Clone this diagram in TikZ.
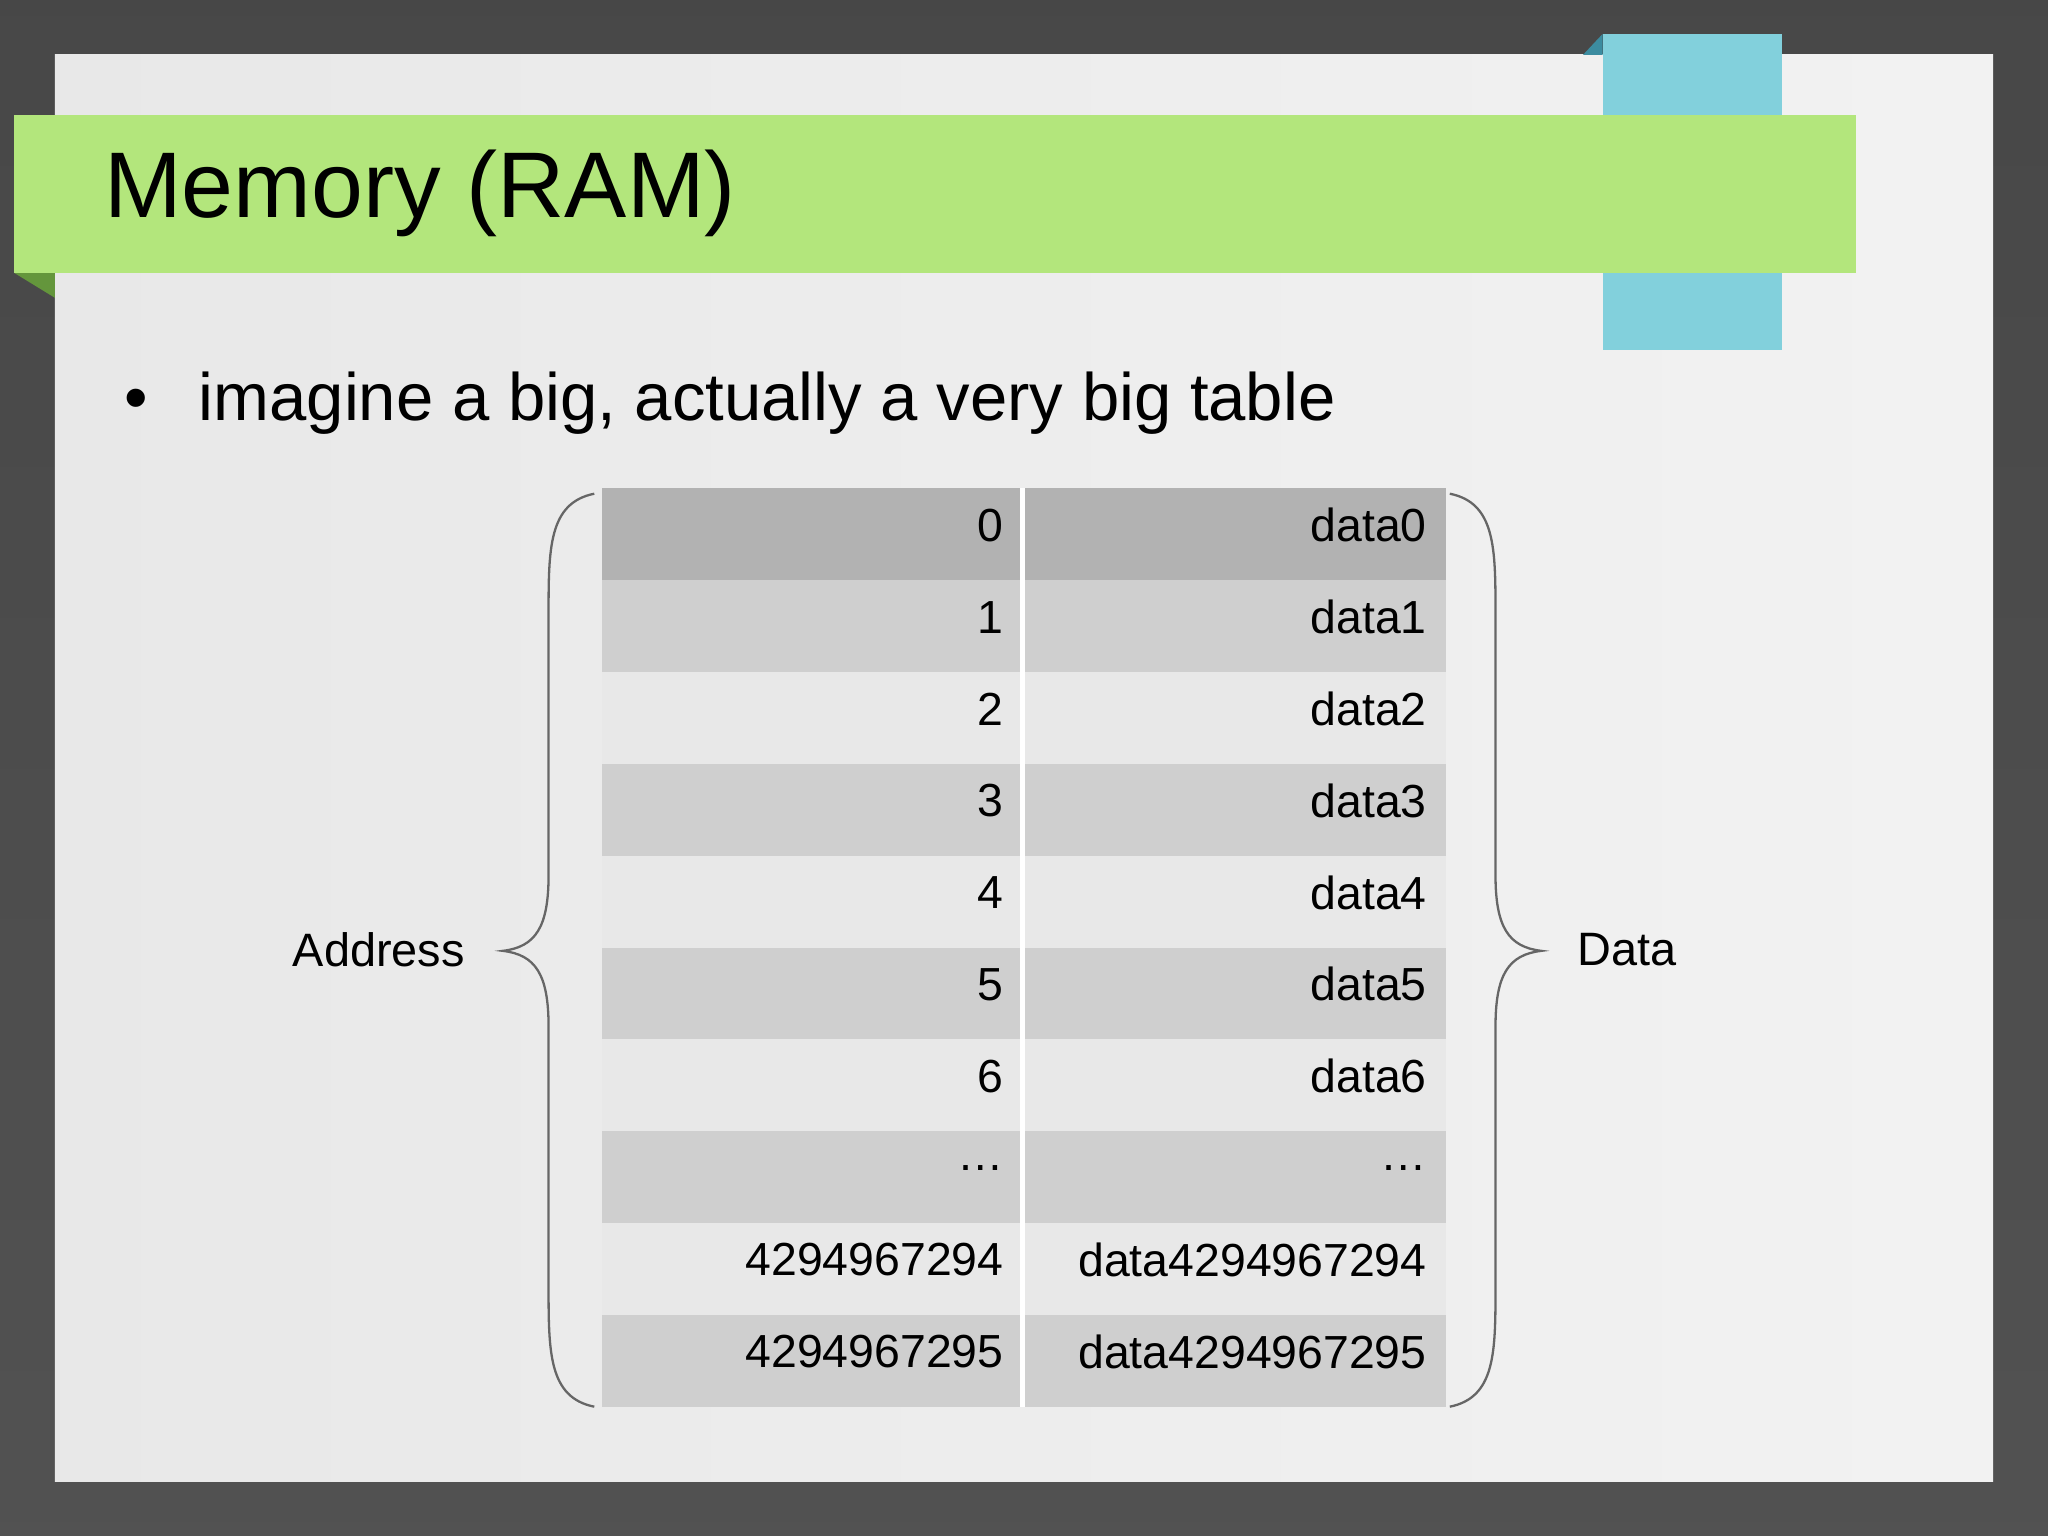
\documentclass[tikz,border=0pt]{standalone}
\usepackage{fontspec}
\setmainfont{Liberation Sans}
\definecolor{cyanbox}{RGB}{130,208,220}
\definecolor{cyanfold}{RGB}{60,140,160}
\definecolor{greenfold}{RGB}{100,150,60}
\definecolor{greenbar}{RGB}{179,230,124}
\begin{document}
\begin{tikzpicture}[x=0.01cm,y=-0.01cm,
  lbl/.style={font=\fontsize{10.1pt}{12pt}\selectfont,anchor=east,inner sep=0},
  brace/.style={draw=gray!80!black,line width=0.5pt}]
\useasboundingbox (0,0) rectangle (1568,1176);
\shade[top color=black!72,bottom color=black!68] (0,0) rectangle (1568,1176);
\shade[left color=black!9,right color=black!5] (42,42) rectangle (1526,1134);
\fill[cyanbox] (1227,26) rectangle (1364,268);
\fill[cyanfold] (1212,42) -- (1227,26) -- (1227,42) -- cycle;
\fill[greenfold] (11,209) -- (42,209) -- (42,228) -- cycle;
\fill[greenbar] (11,88) rectangle (1421,209);
\node[anchor=west,inner sep=0,font=\fontsize{20.3pt}{24pt}\selectfont] (title) at (79,148) {Memory (RAM)};
\node[anchor=west,inner sep=0,font=\fontsize{14.6pt}{18pt}\selectfont] (bul) at (95,309) {\textbullet\hspace{0.75em}imagine a big, actually a very big table};
\foreach \i/\a/\d in {0/0/data0,1/1/data1,2/2/data2,3/3/data3,4/4/data4,5/5/data5,6/6/data6,7/\dots/\dots,8/4294967294/data4294967294,9/4294967295/data4294967295}{
  \pgfmathsetmacro\yt{374+70.3*\i}
  \pgfmathsetmacro\yb{374+70.3*(\i+1)}
  \pgfmathsetmacro\ym{374+70.3*(\i+0.5)-7}
  \ifnum\i=0 \def\c{black!30}\else\ifodd\i \def\c{black!19}\else\def\c{black!9}\fi\fi
  \fill[\c] (461,\yt) rectangle (1107,\yb);
  \node[lbl] (a\i) at (769,\ym) {\a};
  \node[lbl] (d\i) at (1093,\ym) {\d};
}
\draw[white,line width=1pt] (783,374) -- (783,1077);
\draw[brace] (455,378) .. controls (420,385) and (420,420) .. (420,470) -- (420,670) .. controls (420,710) and (410,725) .. (385,728) .. controls (410,731) and (420,746) .. (420,786) -- (420,985) .. controls (420,1035) and (420,1070) .. (455,1077);
\draw[brace] (1110,378) .. controls (1145,385) and (1145,420) .. (1145,470) -- (1145,670) .. controls (1145,710) and (1155,725) .. (1180,728) .. controls (1155,731) and (1145,746) .. (1145,786) -- (1145,985) .. controls (1145,1035) and (1145,1070) .. (1110,1077);
\node[font=\fontsize{10.2pt}{12pt}\selectfont] (addr) at (290,727) {Address};
\node[font=\fontsize{10.2pt}{12pt}\selectfont] (data) at (1246,727) {Data};
\end{tikzpicture}
\end{document}
